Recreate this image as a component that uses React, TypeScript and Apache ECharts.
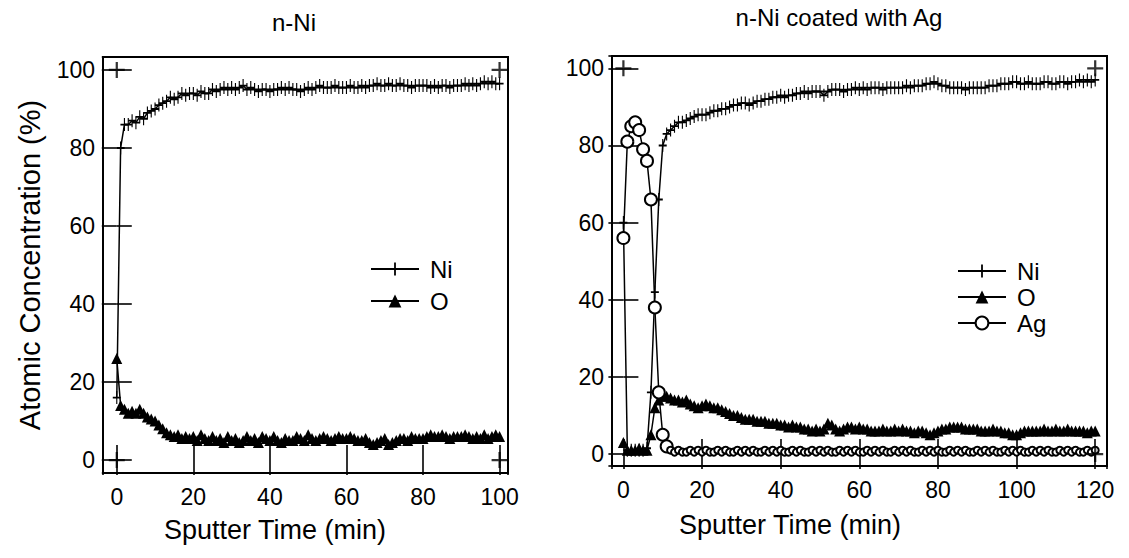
import React, { useEffect, useRef } from "react";
import * as echarts from "echarts";

// ---------- data (1-min sampling) ----------
const STEP = 1; // minutes between samples

// Left panel: n-Ni (t = 0 .. 100 min)
const niLeft = [
  16, 80, 86, 86, 87, 86.5, 88, 87.5, 89, 89.5,
  90, 91, 91.5, 92, 93, 92.5, 93, 94, 93.5, 94,
  94, 93.5, 94.5, 94, 94, 95, 94.5, 95, 95.5, 95,
  95.5, 95, 95.5, 96, 95, 95.5, 95, 94.5, 95, 95,
  94.5, 95, 95, 95.5, 95, 95.5, 95, 95, 94.5, 95,
  95.5, 95, 95.5, 96, 95.5, 95.5, 95.5, 96, 95.5, 95.5,
  95.5, 96, 95.5, 95.5, 96, 95.5, 96, 96, 96.5, 96,
  96, 96.5, 96, 96, 96.5, 96, 96, 95.5, 96, 96,
  96, 96, 95.5, 96, 95.5, 96, 96, 95.5, 96, 96,
  96, 96.5, 96, 96.5, 96, 96.5, 97, 96.5, 97, 96.5,
  96.5,
];
const oLeft = [
  26, 14, 13, 12, 12.5, 12, 13, 12, 11, 10.5,
  10, 9, 8, 7, 6.5, 6, 6.5, 5.5, 6, 5.5,
  6, 5, 6.5, 5.5, 5, 6, 5, 5.5, 4.5, 6,
  5, 5.5, 4.5, 5, 6, 5, 5.5, 4.5, 6, 5.5,
  5, 6, 5, 4.5, 5.5, 5, 5, 6, 5.5, 5,
  6.5, 5.5, 5, 5.5, 6, 5.5, 5, 5.5, 6, 5.5,
  5.5, 6, 5.5, 5, 5, 5.5, 4.5, 4, 4.5, 5,
  5.5, 4, 4.5, 5, 5.5, 5.5, 5, 6, 5.5, 5.5,
  5.5, 6, 6.5, 6, 6, 6.5, 6, 5.5, 6, 6,
  6, 6.5, 6, 5.5, 6, 5.5, 6.5, 5.5, 6, 6.5,
  6,
];

// Right panel: n-Ni coated with Ag (t = 0 .. 120 min)
const niRight = [
  60, 1, 1, 1, 1, 1, 1.5, 16, 42, 66,
  80, 83, 84, 85, 86, 86, 86.5, 87, 87.5, 88,
  88, 88, 88.5, 89, 89, 89.5, 89.5, 90, 90.5, 90.5,
  91, 91, 90.5, 91, 91.5, 91.5, 92, 92, 92.5, 92.5,
  93, 92.5, 93, 93, 93.5, 93.5, 94, 93.5, 94, 94,
  94, 93, 94, 94.5, 94.5, 94.5, 94, 94.5, 94.5, 95,
  94.5, 95, 94.5, 95, 95, 95, 94.5, 95, 95, 95,
  95, 95, 95.5, 95, 95.5, 95.5, 95.5, 96, 96, 96.5,
  96, 95.5, 95.5, 95, 95, 95, 95, 94.5, 95, 95,
  95, 95, 95, 95.5, 95.5, 95.5, 96, 96, 96, 96.5,
  96.5, 96, 96, 96.5, 96, 96, 96, 96.5, 96.5, 96,
  96, 96.5, 96.5, 96, 96.5, 96.5, 97, 96.5, 97, 96.5,
  97,
];
const oRight = [
  3, 1, 1, 1, 1.5, 1, 1, 5, 12, 14,
  15, 15, 14.5, 14, 14, 13.5, 14, 13, 12.5, 12,
  12.5, 13, 12.5, 12, 12, 11.5, 11, 10.5, 10, 10,
  9.5, 9, 9, 9, 8.5, 8.5, 8.5, 8, 8, 8,
  7.5, 7.5, 7, 7.5, 7, 7, 6.5, 6.5, 6, 6.5,
  6, 6.5, 8, 7.5, 6.5, 6, 6.5, 7, 7, 6.5,
  7, 6.5, 6.5, 6, 6, 6, 6.5, 6, 6, 6.5,
  6, 6.5, 6, 6, 5.5, 6, 6, 5.5, 5, 5.5,
  6, 6.5, 6.5, 7, 7, 7, 7, 6.5, 6.5, 6.5,
  6.5, 6, 6, 6, 6.5, 6, 6, 5.5, 5.5, 5,
  5, 5.5, 6, 6, 6, 6, 6, 6.5, 6, 6,
  6.5, 6, 6, 6.5, 6, 6, 6, 6, 5.5, 6,
  6,
];
const agRight = [
  56, 81, 85, 86, 84, 79, 76, 66, 38, 16,
  5, 2, 1, 0.5, 1, 0.5, 0.5, 1, 0.5, 1,
  0.5, 1, 0.5, 0.5, 1, 0.5, 1, 0.5, 0.5, 1,
  0.5, 1, 0.5, 1, 0.5, 0.5, 1, 0.5, 1, 0.5,
  1, 0.5, 0.5, 1, 0.5, 1, 0.5, 0.5, 1, 0.5,
  1, 0.5, 1, 0.5, 0.5, 1, 0.5, 1, 0.5, 1,
  0.5, 0.5, 1, 0.5, 1, 0.5, 1, 0.5, 0.5, 1,
  0.5, 1, 0.5, 1, 0.5, 0.5, 1, 0.5, 1, 0.5,
  1, 0.5, 0.5, 1, 0.5, 1, 0.5, 1, 0.5, 0.5,
  1, 0.5, 1, 0.5, 1, 0.5, 0.5, 1, 0.5, 1,
  0.5, 1, 0.5, 0.5, 1, 0.5, 1, 0.5, 1, 0.5,
  0.5, 1, 0.5, 1, 0.5, 1, 0.5, 0.5, 1, 0.5,
  1,
];

// corner "+" marks drawn on the frames
const cornersLeft = [[0, 100], [0, 0], [100, 100], [100, 0]];
const cornersRight = [[0, 100], [120, 100], [120, 0]];

const legendLeft = ["Ni", "O"];
const legendRight = ["Ni", "O", "Ag"];
const titles = ["n-Ni", "n-Ni coated with Ag"];
const xTitle = "Sputter Time (min)";
const yTitle = "Atomic Concentration (%)";

// ---------- styles ----------
const FONT = "Liberation Sans, Arial, Helvetica, sans-serif";
const PLUS = "path://M4.3,0H5.7V10H4.3Z M0,4.3H10V5.7H0Z";

const toPairs = (arr: number[]) => arr.map((v, i) => [i * STEP, v]);

const labelFmt = (v: number) => (Math.abs(v % 20) < 1e-6 ? String(Math.round(v)) : "");

function axisX(grid: number, min: number, max: number, top: boolean) {
  return {
    type: "value",
    gridIndex: grid,
    min,
    max,
    position: top ? "top" : "bottom",
    splitNumber: 6,
    minInterval: 20,
    maxInterval: 20,
    axisLine: { show: false },
    axisTick: { show: true, inside: true, length: 15, lineStyle: { color: "#000", width: 1.6 } },
    axisLabel: {
      show: !top,
      color: "#000",
      fontFamily: FONT,
      fontSize: 23,
      margin: 12,
      showMinLabel: false,
      showMaxLabel: false,
      formatter: labelFmt,
    },
    splitLine: { show: false },
  };
}
function axisY(grid: number, min: number, max: number, right: boolean) {
  return {
    type: "value",
    gridIndex: grid,
    min,
    max,
    position: right ? "right" : "left",
    splitNumber: 5,
    minInterval: 20,
    maxInterval: 20,
    axisLine: { show: false },
    axisTick: { show: true, inside: true, length: 15, lineStyle: { color: "#000", width: 1.6 } },
    axisLabel: {
      show: !right,
      color: "#000",
      fontFamily: FONT,
      fontSize: 23,
      margin: 8,
      showMinLabel: false,
      showMaxLabel: false,
      formatter: labelFmt,
    },
    splitLine: { show: false },
  };
}

function niSeries(data: number[], xi: number, yi: number) {
  return {
    name: "Ni",
    type: "line",
    xAxisIndex: xi,
    yAxisIndex: yi,
    data: toPairs(data),
    symbol: PLUS,
    symbolSize: [8, 13],
    symbolKeepAspect: false,
    lineStyle: { color: "#000", width: 1.5 },
    itemStyle: { color: "#000" },
    z: 3,
  };
}
function oSeries(data: number[], xi: number, yi: number) {
  return {
    name: "O",
    type: "line",
    xAxisIndex: xi,
    yAxisIndex: yi,
    data: toPairs(data),
    symbol: "triangle",
    symbolSize: 11,
    lineStyle: { color: "#000", width: 1.5 },
    itemStyle: { color: "#000" },
    z: 4,
  };
}
function agSeries(data: number[], xi: number, yi: number) {
  return {
    name: "Ag",
    type: "line",
    xAxisIndex: xi,
    yAxisIndex: yi,
    data: toPairs(data),
    symbol: "emptyCircle",
    symbolSize: (_v: any, p: any) => (p.dataIndex < 12 ? 12 : 7),
    lineStyle: { color: "#000", width: 1.5 },
    itemStyle: { color: "#000", borderWidth: 1.3 },
    z: 5,
  };
}
function cornerSeries(data: number[][], xi: number, yi: number) {
  return {
    name: "corner",
    type: "scatter",
    xAxisIndex: xi,
    yAxisIndex: yi,
    data,
    symbol: PLUS,
    symbolSize: 16,
    itemStyle: { color: "#000" },
    silent: true,
    z: 6,
  };
}

export default function App() {
  const ref = useRef<HTMLDivElement>(null);
  useEffect(() => {
    if (!ref.current) return;
    const chart = echarts.init(ref.current, undefined, { renderer: "svg" });
    const legendCommon = {
      orient: "vertical",
      itemWidth: 48,
      itemHeight: 16,
      selectedMode: false,
      textStyle: { color: "#000", fontFamily: FONT, fontSize: 24, lineHeight: 22, padding: [0, 0, 0, 6] },
      padding: 0,
    };
    chart.setOption({
      animation: false,
      backgroundColor: "#fff",
      grid: [
        { left: 103, top: 57, width: 405, height: 416, show: true, borderColor: "#000", borderWidth: 2, backgroundColor: "transparent" },
        { left: 612, top: 56, width: 495, height: 410, show: true, borderColor: "#000", borderWidth: 2, backgroundColor: "transparent" },
      ],
      xAxis: [
        axisX(0, -3.6, 102.2, false),
        axisX(0, -3.6, 102.2, true),
        axisX(1, -2.9, 123, false),
        axisX(1, -2.9, 123, true),
      ],
      yAxis: [
        axisY(0, -3.33, 103.33, false),
        axisY(0, -3.33, 103.33, true),
        axisY(1, -3.1, 103.2, false),
        axisY(1, -3.1, 103.2, true),
      ],
      legend: [
        { ...legendCommon, data: legendLeft, left: 370, top: 257, itemGap: 8 },
        { ...legendCommon, data: legendRight, left: 957, top: 259, itemGap: 2 },
      ],
      series: [
        niSeries(niLeft, 0, 0),
        oSeries(oLeft, 0, 0),
        cornerSeries(cornersLeft, 0, 0),
        niSeries(niRight, 2, 2),
        oSeries(oRight, 2, 2),
        agSeries(agRight, 2, 2),
        cornerSeries(cornersRight, 2, 2),
      ],
      graphic: [
        { type: "text", x: 294, y: 22, style: { text: titles[0], font: `24px ${FONT}`, fill: "#000", textAlign: "center", textVerticalAlign: "middle" } },
        { type: "text", x: 839, y: 17, style: { text: titles[1], font: `24px ${FONT}`, fill: "#000", textAlign: "center", textVerticalAlign: "middle" } },
        { type: "text", x: 275, y: 530, style: { text: xTitle, font: `27px ${FONT}`, fill: "#000", textAlign: "center", textVerticalAlign: "middle" } },
        { type: "text", x: 790, y: 525, style: { text: xTitle, font: `27px ${FONT}`, fill: "#000", textAlign: "center", textVerticalAlign: "middle" } },
        { type: "text", x: 30, y: 265, rotation: Math.PI / 2, style: { text: yTitle, font: `29px ${FONT}`, fill: "#000", textAlign: "center", textVerticalAlign: "middle" } },
      ],
    });
    return () => chart.dispose();
  }, []);
  return (
    <div
      ref={ref}
      style={{ position: "fixed", left: 0, top: 0, width: 1129, height: 558, background: "#fff" }}
    />
  );
}
